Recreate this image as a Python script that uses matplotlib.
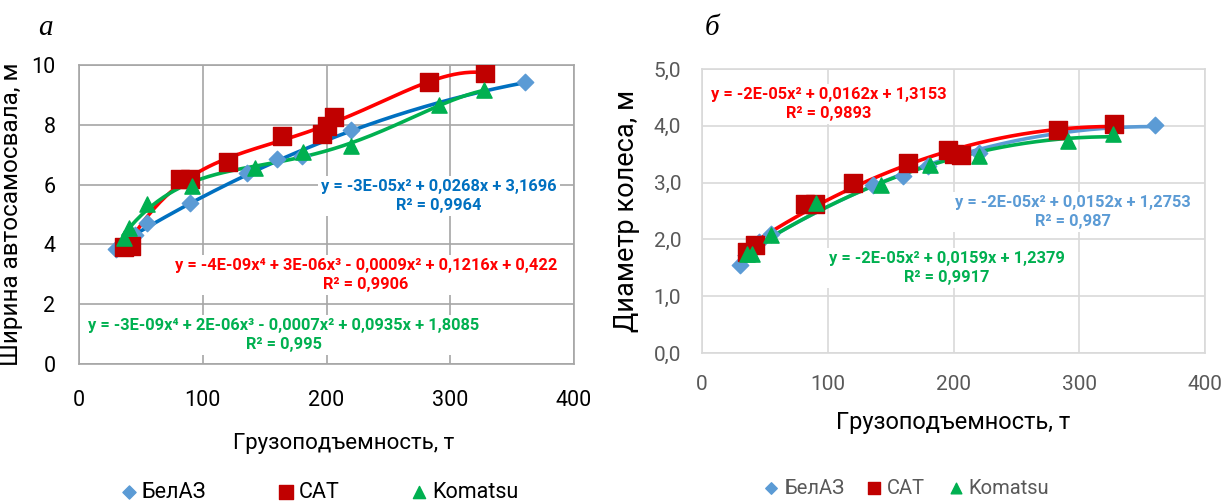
import numpy as np
import matplotlib
matplotlib.use('Agg')
import matplotlib.pyplot as plt

plt.rcParams['font.family'] = ['Roboto', 'DejaVu Sans']

# ---- data: load capacity (t) ----
belaz_x = [30, 45, 55, 90, 136, 160, 180, 220, 360]
cat_x = [36, 42, 82, 90, 120, 164, 196, 200, 206, 283, 328]
kom_x = [36, 40, 55, 91, 142, 181, 220, 291, 327]

# (a) truck width, m
belaz_w = [3.85, 4.3, 4.7, 5.4, 6.4, 6.85, 6.95, 7.83, 9.42]
cat_w = [3.9, 3.95, 6.2, 6.2, 6.75, 7.63, 7.7, 7.95, 8.27, 9.44, 9.74]
kom_w = [4.2, 4.55, 5.35, 5.95, 6.55, 7.1, 7.3, 8.65, 9.15]

# (b) wheel diameter, m
belaz_d = [1.55, 1.96, 2.1, 2.6, 2.95, 3.12, 3.3, 3.52, 4.01]
cat_d = [1.78, 1.9, 2.62, 2.63, 2.99, 3.35, 3.57, 3.5, 3.49, 3.93, 4.04]
kom_d = [1.75, 1.75, 2.08, 2.64, 2.96, 3.31, 3.47, 3.74, 3.86]

eq_a = ['y = -3E-05x² + 0,0268x + 3,1696\nR² = 0,9964',
        'y = -4E-09x⁴ + 3E-06x³ - 0,0009x² + 0,1216x + 0,422\nR² = 0,9906',
        'y = -3E-09x⁴ + 2E-06x³ - 0,0007x² + 0,0935x + 1,8085\nR² = 0,995']
eq_b = ['y = -2E-05x² + 0,0152x + 1,2753\nR² = 0,987',
        'y = -2E-05x² + 0,0162x + 1,3153\nR² = 0,9893',
        'y = -2E-05x² + 0,0159x + 1,2379\nR² = 0,9917']

c_diam = '#5B9BD5'
c_sq = '#C00000'
c_tri = '#00B050'


def trend(ax, x, y, deg, color):
    p = np.polyfit(x, y, deg)
    xs = np.linspace(min(x), max(x), 200)
    ax.plot(xs, np.polyval(p, xs), color=color, lw=2.6, zorder=3)


fig = plt.figure(figsize=(12.25, 5.01), dpi=100)
bb = dict(facecolor='white', edgecolor='none', pad=2)

# ---------------- (a) ----------------
ax1 = fig.add_axes([79/1225, 1-364/501, 495/1225, 299/501])
trend(ax1, belaz_x, belaz_w, 2, '#0070C0')
trend(ax1, cat_x, cat_w, 4, '#FF0000')
trend(ax1, kom_x, kom_w, 4, c_tri)
h1 = ax1.scatter(belaz_x, belaz_w, marker='D', s=70, color=c_diam, zorder=4, label='БелАЗ')
h2 = ax1.scatter(cat_x, cat_w, marker='s', s=150, color=c_sq, zorder=4, label='CAT')
h3 = ax1.scatter(kom_x, kom_w, marker='^', s=120, color=c_tri, zorder=4, label='Komatsu')
ax1.set_xlim(0, 400)
ax1.set_ylim(0, 10)
ax1.set_xticks([0, 100, 200, 300, 400])
ax1.set_yticks([0, 2, 4, 6, 8, 10])
ax1.grid(True, color='#A6A6A6', lw=1.2)
ax1.set_axisbelow(True)
for s in ax1.spines.values():
    s.set_color('#A6A6A6')
    s.set_linewidth(1.2)
ax1.tick_params(length=0, labelsize=15.5, colors='black')
ax1.tick_params(axis='x', pad=19)
ax1.tick_params(axis='y', pad=17)
ax1.set_ylabel('Ширина автосамосвала, м', fontsize=17.5, labelpad=6)
fig.text(344/1225, 1-443/501, 'Грузоподъемность, т', fontsize=16, ha='center', va='center')

for txt, col, px, py in [(eq_a[0], '#0070C0', 439, 196), (eq_a[1], '#FF0000', 366, 275),
                         (eq_a[2], c_tri, 284, 335)]:
    ax1.text((px-79)/1.2375, (364-py)/29.9, txt, color=col, fontsize=11.8, fontweight='bold',
             ha='center', va='center', linespacing=1.4, bbox=bb, zorder=5)

fig.legend(handles=[h1, h2, h3], loc='center', bbox_to_anchor=(318/1225, 1-492/501),
           ncol=3, frameon=False, fontsize=15.5, handletextpad=0.1, columnspacing=3.2,
           handlelength=1.0, markerscale=0.8)

fig.text(45/1225, 1-28/501, 'а', fontsize=21, family='Liberation Serif', style='italic',
         ha='center', va='center')

# ---------------- (b) ----------------
ax2 = fig.add_axes([702/1225, 1-353/501, 503/1225, 284/501])
trend(ax2, belaz_x, belaz_d, 2, c_diam)
trend(ax2, kom_x, kom_d, 2, c_tri)
trend(ax2, cat_x, cat_d, 2, '#FF0000')
g1 = ax2.scatter(belaz_x, belaz_d, marker='D', s=70, color=c_diam, zorder=4, label='БелАЗ')
g2 = ax2.scatter(cat_x, cat_d, marker='s', s=150, color=c_sq, zorder=4, label='CAT')
g3 = ax2.scatter(kom_x, kom_d, marker='^', s=120, color=c_tri, zorder=4, label='Komatsu')
ax2.set_xlim(0, 400)
ax2.set_ylim(0, 5)
ax2.set_xticks([0, 100, 200, 300, 400])
ax2.set_yticks([0, 1, 2, 3, 4, 5])
ax2.set_yticklabels(['0,0', '1,0', '2,0', '3,0', '4,0', '5,0'])
ax2.grid(True, color='#D9D9D9', lw=1.2)
ax2.set_axisbelow(True)
for s in ax2.spines.values():
    s.set_color('#D9D9D9')
    s.set_linewidth(1.2)
ax2.tick_params(length=0, labelsize=15, colors='#595959')
ax2.tick_params(axis='x', pad=16)
ax2.tick_params(axis='y', pad=15)
ax2.set_ylabel('Диаметр колеса, м', fontsize=19.5, labelpad=10)
fig.text(953/1225, 1-423/501, 'Грузоподъемность, т', fontsize=17, ha='center', va='center')

for txt, col, px, py in [(eq_b[1], '#FF0000', 829, 104), (eq_b[0], c_diam, 1073, 212),
                         (eq_b[2], c_tri, 947, 268)]:
    ax2.text((px-702)/1.2575, (353-py)/56.8, txt, color=col, fontsize=11.8, fontweight='bold',
             ha='center', va='center', linespacing=1.4, bbox=bb, zorder=5)

fig.legend(handles=[g1, g2, g3], loc='center', bbox_to_anchor=(905/1225, 1-488/501),
           ncol=3, frameon=False, fontsize=14.5, handletextpad=0.15, columnspacing=1.0,
           handlelength=1.0, markerscale=0.7, labelcolor='#595959')

fig.text(712/1225, 1-28/501, 'б', fontsize=21, family='Liberation Serif', style='italic',
         ha='center', va='center')

fig.savefig('out.png', dpi=100)
